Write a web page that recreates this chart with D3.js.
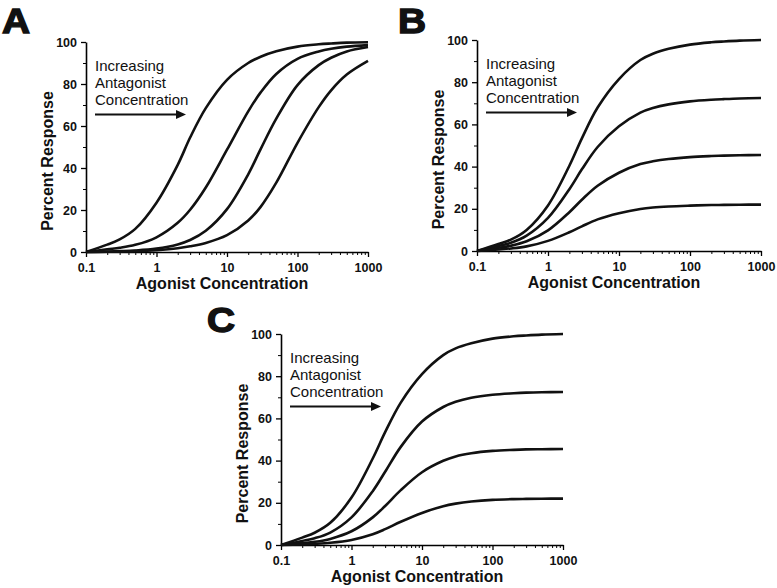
<!DOCTYPE html>
<html>
<head>
<meta charset="utf-8">
<script src="https://cdn.jsdelivr.net/npm/d3@7"></script>
<style>
  body { margin: 0; background: #fff; }
  svg { display: block; font-family: "Liberation Sans", Arial, sans-serif; }
</style>
</head>
<body>
<div id="chart"></div>
<script>
// agonist concentrations the curves were read at
const agonistConc = [0.1, 0.2, 0.3, 0.5, 1, 2, 3, 5, 10, 20, 30, 50, 100, 200, 300, 500, 1000]

// A: competitive antagonist, curves shift right
const curvesA = [
  [0, 3.5, 6, 11, 23.5, 41.5, 54.5, 68.5, 82, 90, 93, 95.6, 97.8, 98.9, 99.3, 99.7, 99.9],
  [0, 1.3, 2, 3.4, 7, 13.9, 20.1, 30.7, 48.7, 67, 76, 84.8, 92, 95.5, 96.8, 97.8, 98.5],
  [0, 0.2, 0.4, 0.7, 1.6, 3.6, 5.7, 10.1, 20.4, 37, 49, 63.5, 79.5, 89, 92.5, 95.5, 97.6],
  [0, 0.1, 0.2, 0.4, 0.9, 1.8, 2.7, 4.3, 8, 15, 21.5, 33, 52, 69, 77, 84.5, 91]
]

// B: maximum depressed, same position
const curvesB = [
  [0, 3.3, 5.4, 10, 21.6, 40.4, 53.4, 68, 81.5, 90.5, 93.5, 95.8, 97.8, 98.9, 99.3, 99.7, 100],
  [0, 2.4, 3.9, 7.3, 15.7, 29.3, 38.7, 49.3, 59.1, 65.6, 67.8, 69.5, 70.9, 71.7, 72, 72.3, 72.5],
  [0, 1.5, 2.5, 4.6, 9.8, 18.4, 24.3, 30.9, 37.1, 41.2, 42.5, 43.6, 44.5, 45, 45.2, 45.4, 45.5],
  [0, 0.7, 1.2, 2.2, 4.8, 8.9, 11.7, 15, 17.9, 19.9, 20.6, 21.1, 21.5, 21.8, 21.85, 21.95, 22]
]

// C: shift plus depression
const curvesC = [
  [0, 3.5, 5.8, 10.5, 22.5, 41, 53.5, 67.5, 81, 90, 93.2, 95.6, 97.8, 98.9, 99.3, 99.7, 100],
  [0, 1.9, 3.2, 5.9, 13.1, 25.5, 34.7, 46.5, 58.5, 65.4, 67.9, 69.8, 71.2, 71.9, 72.2, 72.4, 72.5],
  [0, 0.9, 1.5, 2.9, 6.5, 13.1, 18.5, 26, 34.5, 39.9, 42, 43.5, 44.6, 45.1, 45.3, 45.4, 45.5],
  [0, 0.3, 0.55, 1.05, 2.4, 5.1, 7.5, 11, 15.2, 18.4, 19.6, 20.6, 21.4, 21.75, 21.85, 21.95, 22]
]

const xTickValues = [0.1, 1, 10, 100, 1000]
const xTickLabels = ["0.1", "1", "10", "100", "1000"]
const yTickValues = [0, 20, 40, 60, 80, 100]
const yMinorTicks = [10, 30, 50, 70, 90]
const annotationLines = ["Increasing", "Antagonist", "Concentration"]
const panelLetters = ["A", "B", "C"]
const xTitle = "Agonist Concentration"
const yTitle = "Percent Response"

const W = 777, H = 588

const svg = d3.select("#chart").append("svg")
  .attr("width", W)
  .attr("height", H)

// panel boxes in pixels
const panels = [
  { letter: panelLetters[0], curves: curvesA, left: 86, right: 368, top: 42, bottom: 252, lx: 2, ly: 33 },
  { letter: panelLetters[1], curves: curvesB, left: 477, right: 761, top: 40, bottom: 251, lx: 398, ly: 33 },
  { letter: panelLetters[2], curves: curvesC, left: 281, right: 563, top: 334, bottom: 545, lx: 207, ly: 332 }
]

// minor log ticks 2..9 per decade
const xMinorTicks = []
for (let d = 0.1; d < 1000; d *= 10) {
  for (let k = 2; k <= 9; k++) xMinorTicks.push(+(d * k).toPrecision(3))
}

panels.forEach((p) => {
  const x = d3.scaleLog().domain([0.1, 1000]).range([p.left, p.right])
  const y = d3.scaleLinear().domain([0, 100]).range([p.bottom, p.top])

  const g = svg.append("g")

  // minor ticks first
  g.append("g")
    .attr("transform", `translate(0,${p.bottom})`)
    .call(d3.axisBottom(x).tickValues(xMinorTicks).tickSize(3).tickFormat(""))
    .call((s) => s.select(".domain").remove())
    .call((s) => s.selectAll("line").attr("stroke", "#000").attr("stroke-width", 1))

  g.append("g")
    .attr("transform", `translate(${p.left},0)`)
    .call(d3.axisLeft(y).tickValues(yMinorTicks).tickSize(3).tickFormat(""))
    .call((s) => s.select(".domain").remove())
    .call((s) => s.selectAll("line").attr("stroke", "#000").attr("stroke-width", 1))

  const xAxis = g.append("g")
    .attr("transform", `translate(0,${p.bottom})`)
    .call(d3.axisBottom(x).tickValues(xTickValues).tickSize(5).tickSizeOuter(0)
      .tickPadding(6)
      .tickFormat((d, i) => xTickLabels[i]))

  const yAxis = g.append("g")
    .attr("transform", `translate(${p.left},0)`)
    .call(d3.axisLeft(y).tickValues(yTickValues).tickSize(5).tickSizeOuter(0).tickPadding(4))

  ;[xAxis, yAxis].forEach((a) => {
    a.select(".domain").attr("stroke", "#000").attr("stroke-width", 1.6)
    a.selectAll(".tick line").attr("stroke", "#000").attr("stroke-width", 1.3)
    a.selectAll(".tick text")
      .attr("fill", "#111")
      .style("font-size", "12.5px")
      .style("font-weight", "bold")
  })

  // curves
  const line = d3.line()
    .x((d) => x(d[0]))
    .y((d) => y(d[1]))
    .curve(d3.curveCatmullRom.alpha(0.5))

  p.curves.forEach((c) => {
    g.append("path")
      .datum(agonistConc.map((v, i) => [v, c[i]]))
      .attr("fill", "none")
      .attr("stroke", "#111")
      .attr("stroke-width", 2.6)
      .attr("stroke-linejoin", "round")
      .attr("d", line)
  })

  // axis titles
  g.append("text")
    .attr("x", (p.left + p.right) / 2 - 5)
    .attr("y", p.bottom + 37)
    .attr("text-anchor", "middle")
    .style("font-size", "16px")
    .style("font-weight", "bold")
    .attr("fill", "#111")
    .text(xTitle)

  g.append("text")
    .attr("transform", `translate(${p.left - 33},${(p.top + p.bottom) / 2 + 14}) rotate(-90)`)
    .attr("text-anchor", "middle")
    .style("font-size", "16px")
    .style("font-weight", "bold")
    .attr("fill", "#111")
    .text(yTitle)

  // annotation
  const ax = p.left + 9
  g.append("text")
    .attr("x", ax)
    .attr("y", p.top + 28.5)
    .style("font-size", "15px")
    .attr("fill", "#111")
    .selectAll("tspan")
    .data(annotationLines)
    .enter()
    .append("tspan")
    .attr("x", ax)
    .attr("dy", (d, i) => (i === 0 ? 0 : 17))
    .text((d) => d)

  const arrowY = p.top + 72.5
  const arrowEnd = ax + 91
  g.append("line")
    .attr("x1", ax)
    .attr("x2", arrowEnd - 8)
    .attr("y1", arrowY)
    .attr("y2", arrowY)
    .attr("stroke", "#111")
    .attr("stroke-width", 2)
  g.append("path")
    .attr("d", `M${arrowEnd},${arrowY} L${arrowEnd - 10},${arrowY - 4.5} L${arrowEnd - 10},${arrowY + 4.5} Z`)
    .attr("fill", "#111")

  // panel letter
  svg.append("text")
    .attr("x", p.lx)
    .attr("y", p.ly)
    .style("font-size", "36px")
    .style("font-weight", "bold")
    .attr("fill", "#111")
    .attr("stroke", "#111")
    .attr("stroke-width", 1.4)
    .attr("transform", `translate(${p.lx},0) scale(1.08,1) translate(${-p.lx},0)`)
    .text(p.letter)
})
</script>
</body>
</html>
